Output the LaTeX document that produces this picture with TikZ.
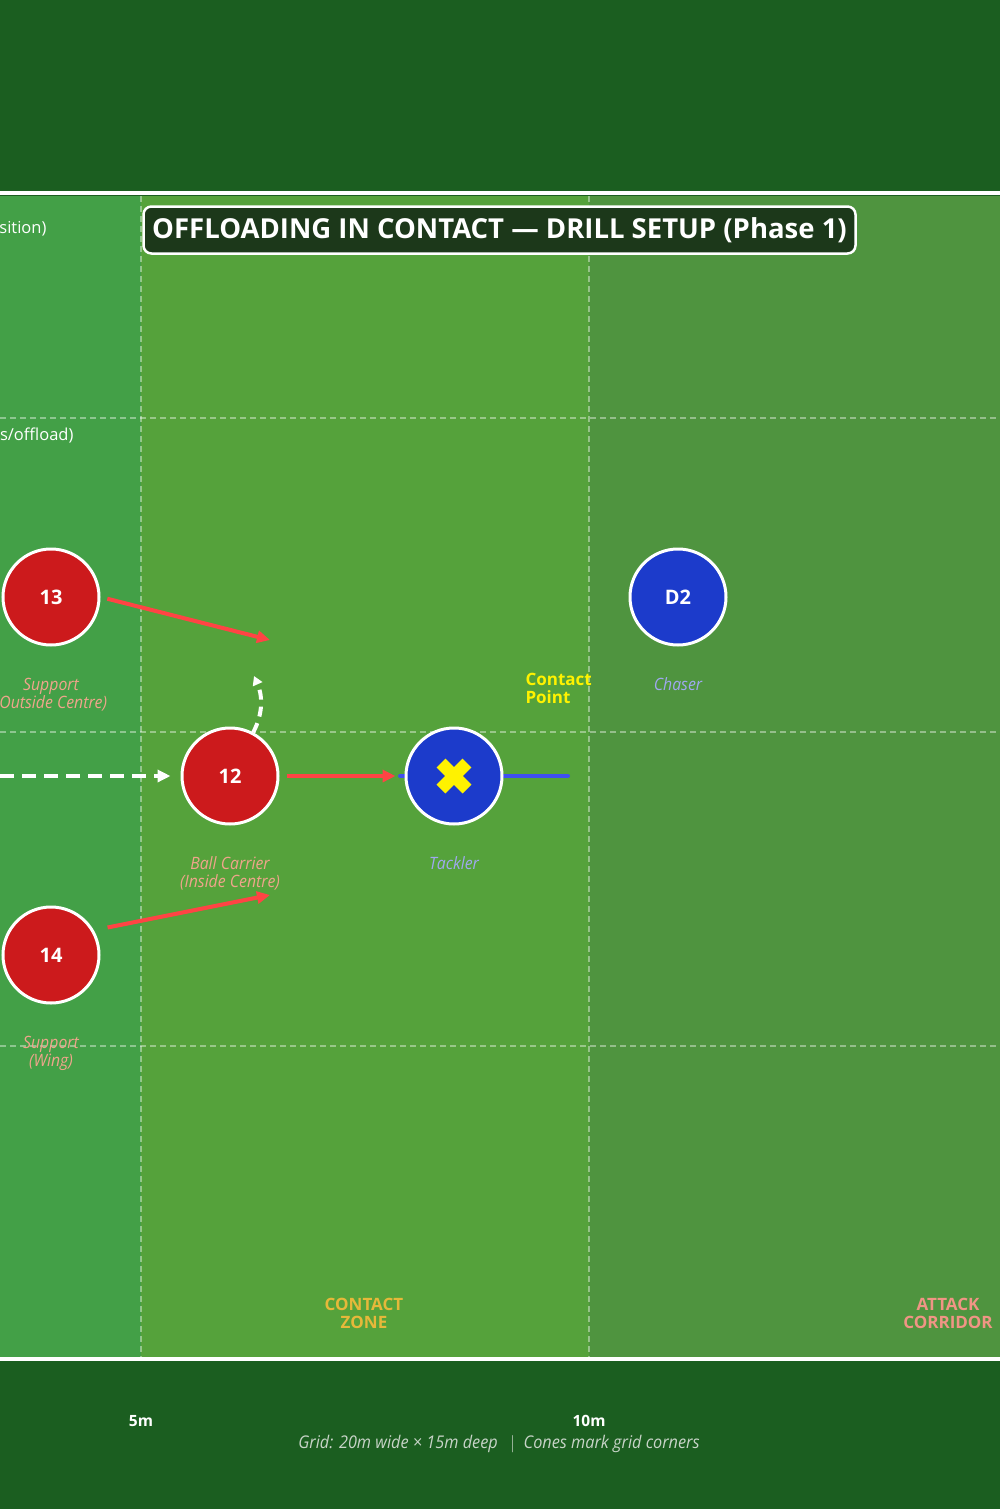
\documentclass[tikz,border=0pt]{standalone}
\usepackage{fontspec}
\setmainfont{Open Sans}
\newfontfamily\narrowfont[FakeStretch=0.93]{Open Sans}
\usetikzlibrary{arrows.meta,positioning}

\definecolor{pitchdark}{HTML}{1B5E20}
\definecolor{leftband}{HTML}{43A047}
\definecolor{midband}{HTML}{55A23B}
\definecolor{rightband}{HTML}{4F943F}
\definecolor{titlefill}{HTML}{1C381A}
\definecolor{attackred}{HTML}{CC1A1C}
\definecolor{defblue}{HTML}{1C3BCB}
\definecolor{runred}{HTML}{FF4444}
\definecolor{defline}{HTML}{3F4FF0}
\definecolor{redlabel}{HTML}{F0A58C}
\definecolor{bluelabel}{HTML}{A0A8F0}
\definecolor{zonegold}{HTML}{E6B83A}
\definecolor{zonesalmon}{HTML}{F09585}
\definecolor{footgrey}{HTML}{C8D4C8}

\begin{document}
\begin{tikzpicture}[x=1pt,y=-1pt,>={Triangle[length=13pt,width=12pt]},
                    node distance=28pt,
    player/.style={circle,draw=white,line width=3pt,minimum size=96pt,inner sep=0pt,
                   text=white,font=\bfseries\fontsize{20}{20}\selectfont},
    attacker/.style={player,fill=attackred},
    defender/.style={player,fill=defblue},
    role/.style={align=center,font=\narrowfont\itshape\fontsize{17}{18}\selectfont},
    zone/.style={align=center,font=\bfseries\fontsize{17}{18}\selectfont},
    run/.style={->,draw=runred,line width=4pt},
    support/.style={->,draw=white,line width=4pt,dash pattern=on 14pt off 8pt},
    gridline/.style={draw=white,opacity=0.4,line width=1.5pt,dash pattern=on 6pt off 4pt}]

  \useasboundingbox (0,0) rectangle (1000,1509);
  \fill[pitchdark] (0,0) rectangle (1000,1509);
  \fill[leftband]  (0,196) rectangle (141,1357);
  \fill[midband]   (141,196) rectangle (589,1357);
  \fill[rightband] (589,196) rectangle (1000,1357);
  \draw[white,line width=4pt] (0,193) -- (1000,193) (0,1359) -- (1000,1359);
  \foreach \x in {141,589}
    \draw[gridline] (\x,196) -- (\x,1357);
  \foreach \y in {418,732,1046}
    \draw[gridline] (0,\y) -- (1000,\y);

  \node[anchor=east,text=white,font=\fontsize{16.5}{16.5}\selectfont] (pos) at (50,229) {sition)};
  \node[anchor=east,text=white,font=\fontsize{16.5}{16.5}\selectfont] (off) at (77,435) {s/offload)};

  \node[rounded corners=8pt,fill=titlefill,draw=white,line width=2.5pt,
        minimum width=712pt,minimum height=47pt,text=white,
        font=\bfseries\fontsize{27.5}{27.5}\selectfont] (title) at (499.5,230)
        {OFFLOADING IN CONTACT — DRILL SETUP (Phase 1)};

  \coordinate (tkl) at (400,776);
  \coordinate (tk)  at (568,776);
  \draw[defline,line width=4pt,line cap=round] (tkl) -- (tk);

  \node[attacker] (13) at (51,597)  {13};
  \node[attacker] (12) at (230,776) {12};
  \node[attacker] (14) at (51,955)  {14};
  \node[defender] (T)  at (454,776) {};
  \node[defender] (D2) at (678,597) {D2};

  \draw[yellow,line width=12.5pt] (T) +(-13,-13) -- +(13,13)
                                  (T) +(-13,13) -- +(13,-13);

  \node[role,text=redlabel]  (13l) [below=of 13] {Support\\(Outside Centre)};
  \node[role,text=redlabel]  (12l) [below=of 12] {Ball Carrier\\(Inside Centre)};
  \node[role,text=redlabel]  (14l) [below=of 14] {Support\\(Wing)};
  \node[role,text=bluelabel] (Tl)  [below=of T]  {Tackler};
  \node[role,text=bluelabel] (D2l) [below=of D2] {Chaser};

  \node[zone,text=yellow,align=left,anchor=north west] (cp) at (522,670) {Contact\\Point};
  \node[zone,text=zonegold]   (cz) at (364,1313) {CONTACT\\ZONE};
  \node[zone,text=zonesalmon] (ac) at (948,1313) {ATTACK\\CORRIDOR};

  \coordinate (start) at (0,776);
  \coordinate (pass)  at (254,676);
  \coordinate (run13) at (270,640);
  \coordinate (run14) at (270,895);

  \draw[support,shorten >=10pt] (start) -- (12);
  \draw[support,dash pattern=on 10pt off 7pt,>={Triangle[length=9pt,width=10pt]}]
        (12.62) .. controls (264,712) and (262,694) .. (pass);
  \draw[run,shorten <=7pt,shorten >=9pt] (12) -- (T);
  \draw[run,shorten <=7pt] (13.east) -- (run13);
  \draw[run,shorten <=14pt] (14.30) -- (run14);

  \node[text=white,font=\bfseries\fontsize{15.5}{15.5}\selectfont] (m5)  at (141,1421) {5m};
  \node[text=white,font=\bfseries\fontsize{15.5}{15.5}\selectfont] (m10) at (589,1421) {10m};
  \node[text=footgrey,font=\narrowfont\itshape\fontsize{17.5}{17.5}\selectfont] (foot) at (499,1444)
        {Grid: 20m wide × 15m deep \ \ $|$\ \ Cones mark grid corners};
\end{tikzpicture}
\end{document}
